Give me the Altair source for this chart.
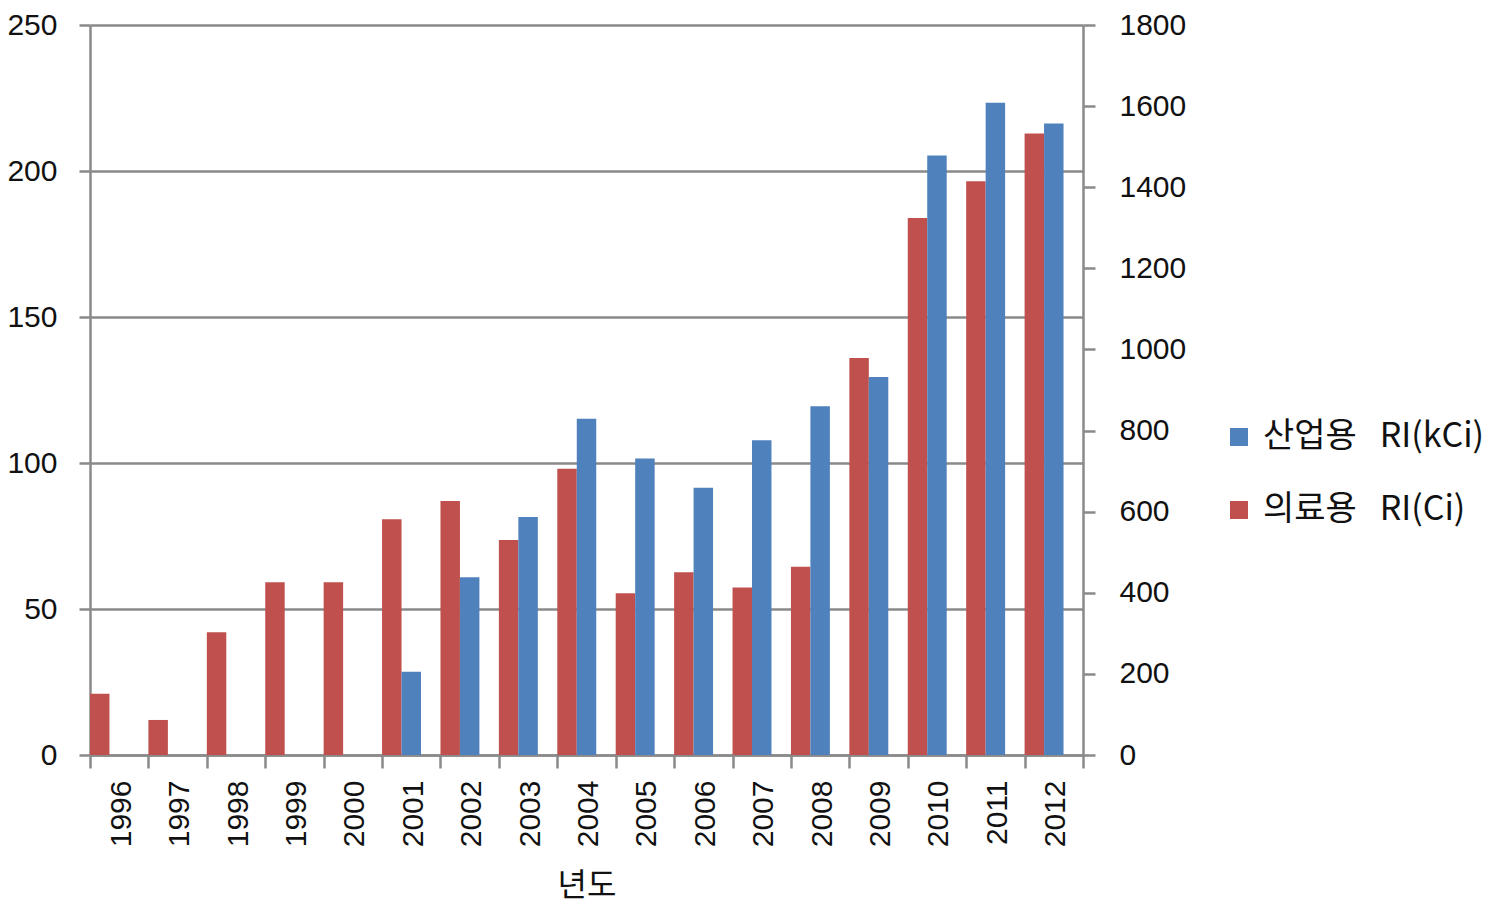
import altair as alt
import pandas as pd

years = [str(y) for y in range(1996, 2013)]
medical = [21.0, 12.0, 42.0, 59.2, 59.2, 80.7, 87.0, 73.6, 98.0, 55.4, 62.6, 57.4, 64.5, 136.0, 183.9, 196.5, 212.8]
ind_years = [str(y) for y in range(2001, 2013)]
industrial = [205, 438, 587, 829, 731, 659, 776, 860, 932, 1478, 1608, 1557]

left_ticks = [0, 50, 100, 150, 200, 250]
right_ticks = [0, 200, 400, 600, 800, 1000, 1200, 1400, 1600, 1800]

IND = "산업용\u00a0\u00a0\u00a0RI(kCi)"
MED = "의료용\u00a0\u00a0\u00a0RI(Ci)"
BLUE = "#4F81BD"
RED = "#C0504D"
GRAY = "#8a8a8a"
FONT = "Noto Sans CJK KR"
NUMFONT = "Liberation Sans"

med_df = pd.DataFrame({"year": years, "value": medical, "series": MED})
ind_df = pd.DataFrame({"year": ind_years, "value": industrial, "series": IND})

x = alt.X(
    "year:N",
    sort=years,
    scale=alt.Scale(domain=years, paddingInner=0, paddingOuter=0),
    axis=alt.Axis(title="년도", labelAngle=-90, tickBand="extent", tickSize=13,
                  labelPadding=12, titlePadding=24, grid=False, labelOffset=2),
)
xoff = alt.XOffset("series:N", scale=alt.Scale(domain=[MED, IND, "pad"], paddingInner=0, paddingOuter=0))
color = alt.Color(
    "series:N",
    scale=alt.Scale(domain=[IND, MED], range=[BLUE, RED]),
    legend=alt.Legend(title=None, orient="none", legendX=1132, legendY=395,
                      symbolType="square", symbolSize=324, labelFontSize=34,
                      rowPadding=39, labelOffset=7, padding=0, symbolStrokeWidth=0,
                      labelLimit=500, labelFont=FONT, labelColor="#111"),
)

red = alt.Chart(med_df).mark_bar().encode(
    x=x, xOffset=xoff,
    y=alt.Y("value:Q", scale=alt.Scale(domain=[0, 250], nice=False),
            axis=alt.Axis(values=left_ticks, title=None, orient="left", grid=True,
                          tickSize=11, labelPadding=22, format="d")),
    color=color,
)
blue = alt.Chart(ind_df).mark_bar().encode(
    x=x, xOffset=xoff,
    y=alt.Y("value:Q", scale=alt.Scale(domain=[0, 1800], nice=False),
            axis=alt.Axis(values=right_ticks, title=None, orient="right", grid=False,
                          tickSize=12, labelPadding=24, format="d")),
    color=color,
)

chart = (
    alt.layer(red, blue)
    .resolve_scale(y="independent")
    .properties(width=993, height=730,
                padding={"left": 82, "top": 17, "right": 400, "bottom": 150},
                autosize=alt.AutoSizeParams(type="none"))
    .configure_view(stroke=None)
    .configure_axis(domainColor=GRAY, domainWidth=2.5, tickColor=GRAY, tickWidth=2.5,
                    gridColor=GRAY, gridWidth=2.5, labelFont=NUMFONT, labelFontSize=30,
                    labelColor="#111", titleFont=FONT, titleFontSize=32,
                    titleColor="#111", titleFontWeight="normal")
)

chart.save("out.html", embed_options={"renderer": "svg", "actions": False})
